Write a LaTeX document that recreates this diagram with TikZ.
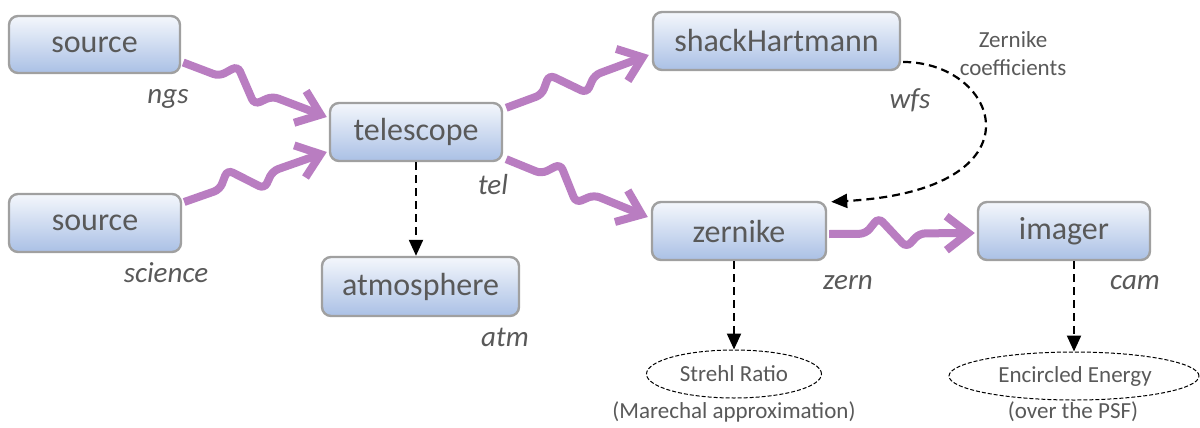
\documentclass[tikz,border=0pt]{standalone}
\usepackage{fontspec}
\setmainfont{Carlito}
\usetikzlibrary{arrows.meta,calc,shapes.geometric}
\definecolor{wavecol}{RGB}{185,125,193}
\definecolor{boxedge}{RGB}{160,160,160}
\definecolor{boxtop}{RGB}{244,247,252}
\definecolor{boxbot}{RGB}{170,192,229}
\definecolor{txt}{RGB}{89,89,89}
\newcommand{\wavearrow}[2]{\draw[wave] (#1) -- ($(#1)!0.25!(#2)$) -- ($(#1)!0.34!(#2)!8pt!90:(#2)$) -- ($(#1)!0.53!(#2)!7pt!-90:(#2)$) -- ($(#1)!0.62!(#2)$) -- (#2);}
\begin{document}
\begin{tikzpicture}[x=0.5pt,y=-0.5pt,
 box/.style={rectangle, rounded corners=4.5pt, draw=boxedge, line width=1.2pt, top color=boxtop, bottom color=boxbot, text=txt, font=\fontsize{16}{18}\selectfont, inner sep=0pt},
 lbl/.style={text=txt, font=\fontsize{14.5}{16}\selectfont\itshape, inner sep=0pt},
 note/.style={text=txt, font=\fontsize{11.5}{14}\selectfont, inner sep=0pt, align=center},
 oval/.style={ellipse, draw=black, line width=0.5pt, dash pattern=on 2pt off 1pt, inner sep=0pt},
 wave/.style={wavecol, line width=4pt, rounded corners=3pt, -{Straight Barb[length=11pt,width=17pt]}},
 dasharrow/.style={black, line width=1.1pt, dash pattern=on 4pt off 2.5pt, -{Triangle[length=8pt,width=7pt]}}
]
\useasboundingbox (0,0) rectangle (1200,428);

% boxes
\node[box, minimum width=85.5pt, minimum height=28.5pt] (src1) at (94.5,44.5) {source};
\node[box, minimum width=86pt, minimum height=29pt] (src2) at (95,223) {source};
\node[box, minimum width=86pt, minimum height=29pt] (tel) at (416,132) {telescope};
\node[box, minimum width=98.5pt, minimum height=29.5pt] (atm) at (420.5,286.5) {atmosphere};
\node[box, minimum width=123.5pt, minimum height=29pt] (sh) at (776.5,41) {shackHartmann};
\node[box, minimum width=87pt, minimum height=29pt] (zern) at (739,231) {zernike};
\node[box, minimum width=86pt, minimum height=29pt] (img) at (1064,231) {imager};

% ellipses
\node[oval, minimum width=87.5pt, minimum height=24pt] (strehl) at (734,374) {};
\node[note] at (734,374) {Strehl Ratio};
\node[note] (marechal) at (734,412) {(Marechal approximation)};
\node[oval, minimum width=125pt, minimum height=24pt] (ee) at (1074,376) {};
\node[note] at (1075,376) {Encircled Energy};
\node[note] (psf) at (1073,412) {(over the PSF)};

% labels
\node[lbl] (lngs) at (168,99) {ngs};
\node[lbl] (lsci) at (166,273) {science};
\node[lbl] (ltel) at (493,185) {tel};
\node[lbl] (latm) at (505,337) {atm};
\node[lbl] (lwfs) at (910,100) {wfs};
\node[lbl] (lzern) at (848,283) {zern};
\node[lbl] (lcam) at (1135,283) {cam};
\node[note] (zc) at (1013,54) {Zernike\\coefficients};

% wavy arrows
\coordinate (w1s) at ($(src1.east)+(2,18)$);
\coordinate (w1e) at ($(tel.west)+(-2,-15)$);
\coordinate (w2s) at ($(src2.east)+(2,-21)$);
\coordinate (w2e) at ($(tel.west)+(-2,20)$);
\coordinate (w3s) at ($(tel.north east)+(3,6)$);
\coordinate (w3e) at ($(sh.west)+(-3,14)$);
\coordinate (w4s) at ($(tel.south east)+(3,-3)$);
\coordinate (w4e) at ($(zern.west)+(-3,-14)$);
\coordinate (w5s) at ($(zern.east)+(2,3)$);
\coordinate (w5e) at ($(img.west)+(-2,2)$);
\wavearrow{w1s}{w1e}
\wavearrow{w2s}{w2e}
\wavearrow{w3s}{w3e}
\wavearrow{w4s}{w4e}
\wavearrow{w5s}{w5e}

% dashed arrows
\draw[dasharrow] (tel.south) -- (tel.south |- atm.north);
\draw[dasharrow] (strehl.north |- zern.south) -- (strehl.north);
\draw[dasharrow] (ee.north |- img.south) -- (ee.north);
\draw[dasharrow] ($(sh.east)+(2,21)$) .. controls (1000,62) and (1046,190) .. ($(zern.north east)+(4,1)$);
\end{tikzpicture}
\end{document}
